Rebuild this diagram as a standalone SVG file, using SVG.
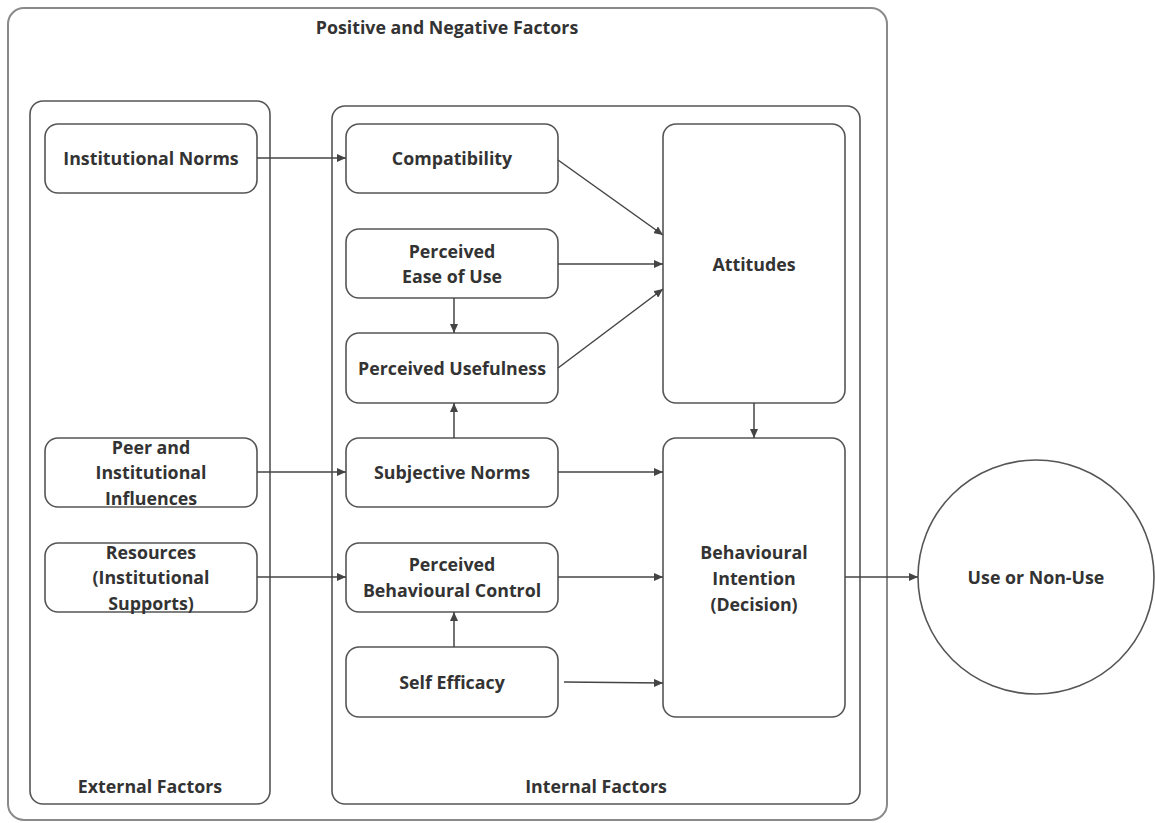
<svg xmlns="http://www.w3.org/2000/svg" width="1155" height="823" viewBox="0 0 1155 823">
<defs>
<style>
.frame{fill:none;stroke:#555;stroke-width:1.6}
.outer{fill:none;stroke:#8a8a8a;stroke-width:2}
.node{fill:#fff;stroke:#555;stroke-width:1.6}
.t{font-family:"Open Sans","Liberation Sans",sans-serif;font-weight:bold;font-size:17.8px;fill:#333;text-anchor:middle;dominant-baseline:central}
.c{fill:none;stroke:#444;stroke-width:1.5;marker-end:url(#ah)}
</style>
<marker id="ah" markerWidth="9" markerHeight="8" refX="9" refY="4" orient="auto" markerUnits="userSpaceOnUse">
<path d="M0,0 L9,4 L0,8 z" fill="#444"/>
</marker>
</defs>
<rect width="1155" height="823" fill="#fff"/>

<g id="positive-negative-factors">
<rect class="outer" x="8" y="8" width="879" height="812" rx="16"/>
<text class="t" x="447" y="27">Positive and Negative Factors</text>
</g>

<g id="external-factors">
<rect class="frame" x="30" y="101" width="240" height="703" rx="13"/>
<text class="t" x="150" y="786">External Factors</text>
</g>

<g id="internal-factors">
<rect class="frame" x="332" y="106" width="528" height="698" rx="13"/>
<text class="t" x="596" y="786">Internal Factors</text>
</g>

<g id="institutional-norms">
<rect class="node" x="45" y="124" width="212" height="69" rx="13"/>
<text class="t" x="151" y="158">Institutional Norms</text>
</g>

<g id="peer-influences">
<rect class="node" x="45" y="438" width="212" height="69" rx="13"/>
<text class="t" x="151" y="447">Peer and</text>
<text class="t" x="151" y="472">Institutional</text>
<text class="t" x="151" y="498">Influences</text>
</g>

<g id="resources">
<rect class="node" x="45" y="543" width="212" height="69" rx="13"/>
<text class="t" x="151" y="552">Resources</text>
<text class="t" x="151" y="577">(Institutional</text>
<text class="t" x="151" y="603">Supports)</text>
</g>

<g id="compatibility">
<rect class="node" x="346" y="124" width="212" height="69" rx="13"/>
<text class="t" x="452" y="158">Compatibility</text>
</g>

<g id="perceived-ease-of-use">
<rect class="node" x="346" y="229" width="212" height="69" rx="13"/>
<text class="t" x="452" y="251">Perceived</text>
<text class="t" x="452" y="276">Ease of Use</text>
</g>

<g id="perceived-usefulness">
<rect class="node" x="346" y="333" width="212" height="70" rx="13"/>
<text class="t" x="452" y="368">Perceived Usefulness</text>
</g>

<g id="subjective-norms">
<rect class="node" x="346" y="438" width="212" height="69" rx="13"/>
<text class="t" x="452" y="472">Subjective Norms</text>
</g>

<g id="perceived-behavioural-control">
<rect class="node" x="346" y="543" width="212" height="69" rx="13"/>
<text class="t" x="452" y="564">Perceived</text>
<text class="t" x="452" y="590">Behavioural Control</text>
</g>

<g id="self-efficacy">
<rect class="node" x="346" y="647" width="212" height="70" rx="13"/>
<text class="t" x="452" y="682">Self Efficacy</text>
</g>

<g id="attitudes">
<rect class="node" x="663" y="124" width="182" height="279" rx="13"/>
<text class="t" x="754" y="264">Attitudes</text>
</g>

<g id="behavioural-intention">
<rect class="node" x="663" y="438" width="182" height="279" rx="13"/>
<text class="t" x="754" y="552">Behavioural</text>
<text class="t" x="754" y="578">Intention</text>
<text class="t" x="754" y="604">(Decision)</text>
</g>

<g id="use-or-non-use">
<ellipse cx="1036" cy="577" rx="118" ry="117" fill="#fff" stroke="#555" stroke-width="1.6"/>
<text class="t" x="1036" y="577">Use or Non-Use</text>
</g>

<g id="connectors">
<line class="c" x1="257" y1="158" x2="346" y2="158"/>
<line class="c" x1="558" y1="160" x2="663" y2="235"/>
<line class="c" x1="558" y1="264" x2="663" y2="264"/>
<line class="c" x1="558" y1="368" x2="663" y2="289"/>
<line class="c" x1="454" y1="298" x2="454" y2="333"/>
<line class="c" x1="454" y1="438" x2="454" y2="403"/>
<line class="c" x1="754" y1="403" x2="754" y2="438"/>
<line class="c" x1="257" y1="472" x2="346" y2="472"/>
<line class="c" x1="257" y1="577" x2="346" y2="577"/>
<line class="c" x1="558" y1="472" x2="663" y2="472"/>
<line class="c" x1="558" y1="577" x2="663" y2="577"/>
<line class="c" x1="454" y1="647" x2="454" y2="612"/>
<line class="c" x1="564" y1="682" x2="663" y2="683"/>
<line class="c" x1="845" y1="577" x2="918" y2="577"/>
</g>
</svg>
